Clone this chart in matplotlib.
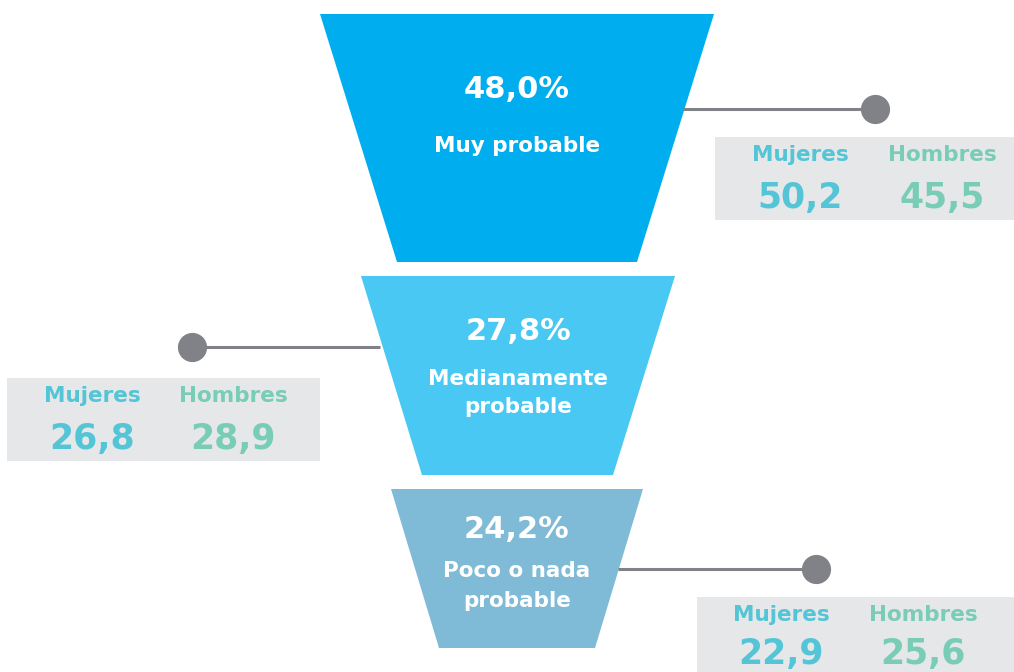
import matplotlib.pyplot as plt
from matplotlib.patches import Polygon, Rectangle

plt.rcParams['font.family'] = ['DejaVu Sans']

# datos
pct = ["48,0%", "27,8%", "24,2%"]
etiquetas = [["Muy probable"], ["Medianamente", "probable"], ["Poco o nada", "probable"]]
mujeres = ["50,2", "26,8", "22,9"]
hombres = ["45,5", "28,9", "25,6"]

colores = ["#00AEEF", "#48C8F2", "#7FBAD7"]
c_muj = "#54C5D6"
c_hom = "#79CDB7"
c_gris = "#808287"
c_caja = "#E6E7E8"

# geometria en pixel (x izq arriba, x der arriba, x izq abajo, x der abajo, y arriba, y abajo)
trap = [(320, 714, 397, 637, 14, 262),
        (361, 675, 422, 613, 276, 475),
        (391, 643, 439, 595, 489, 648)]
# lineas base de los textos
y_pct = [98, 340, 538]
y_lab = [[152], [385, 413], [577, 607]]
# conectores: (x inicio, x punto, y), caja (x0, x1, y0, y1), centros de columnas
conn = [(683, 875, 109), (380, 192, 347), (618, 816, 569)]
cajas = [(715, 1014, 137, 220), (7, 320, 378, 461), (697, 1014, 597, 690)]
col_x = [(800, 942), (92, 233), (781, 923)]
y_val = [71, 71, 67]

fig = plt.figure(figsize=(10.14, 6.72), dpi=100)
ax = fig.add_axes([0, 0, 1, 1])
ax.set_xlim(0, 1014)
ax.set_ylim(672, 0)
ax.axis('off')

for i in range(3):
    xl, xr, bl, br, yt, yb = trap[i]
    ax.add_patch(Polygon([(xl, yt), (xr, yt), (br, yb), (bl, yb)], closed=True,
                         facecolor=colores[i], edgecolor='none'))
    xc = (xl + xr) / 2
    ax.text(xc, y_pct[i], pct[i], color='white', fontsize=22, fontweight='bold',
            ha='center', va='baseline')
    for lin, yy in zip(etiquetas[i], y_lab[i]):
        ax.text(xc, yy, lin, color='white', fontsize=15.5, fontweight='bold',
                ha='center', va='baseline')

    x0, x1, yc = conn[i]
    ax.plot([x0, x1], [yc, yc], color=c_gris, lw=2.2, solid_capstyle='butt')
    ax.plot(x1, yc, 'o', color=c_gris, markersize=20)

    bx0, bx1, by0, by1 = cajas[i]
    ax.add_patch(Rectangle((bx0, by0), bx1 - bx0, by1 - by0, facecolor=c_caja,
                           edgecolor='none'))
    xm, xh = col_x[i]
    ax.text(xm, by0 + 24, "Mujeres", color=c_muj, fontsize=15.5, fontweight='bold',
            ha='center', va='baseline')
    ax.text(xh, by0 + 24, "Hombres", color=c_hom, fontsize=15.5, fontweight='bold',
            ha='center', va='baseline')
    ax.text(xm, by0 + y_val[i], mujeres[i], color=c_muj, fontsize=25, fontweight='bold',
            ha='center', va='baseline')
    ax.text(xh, by0 + y_val[i], hombres[i], color=c_hom, fontsize=25, fontweight='bold',
            ha='center', va='baseline')

fig.savefig("out.png", dpi=100)
